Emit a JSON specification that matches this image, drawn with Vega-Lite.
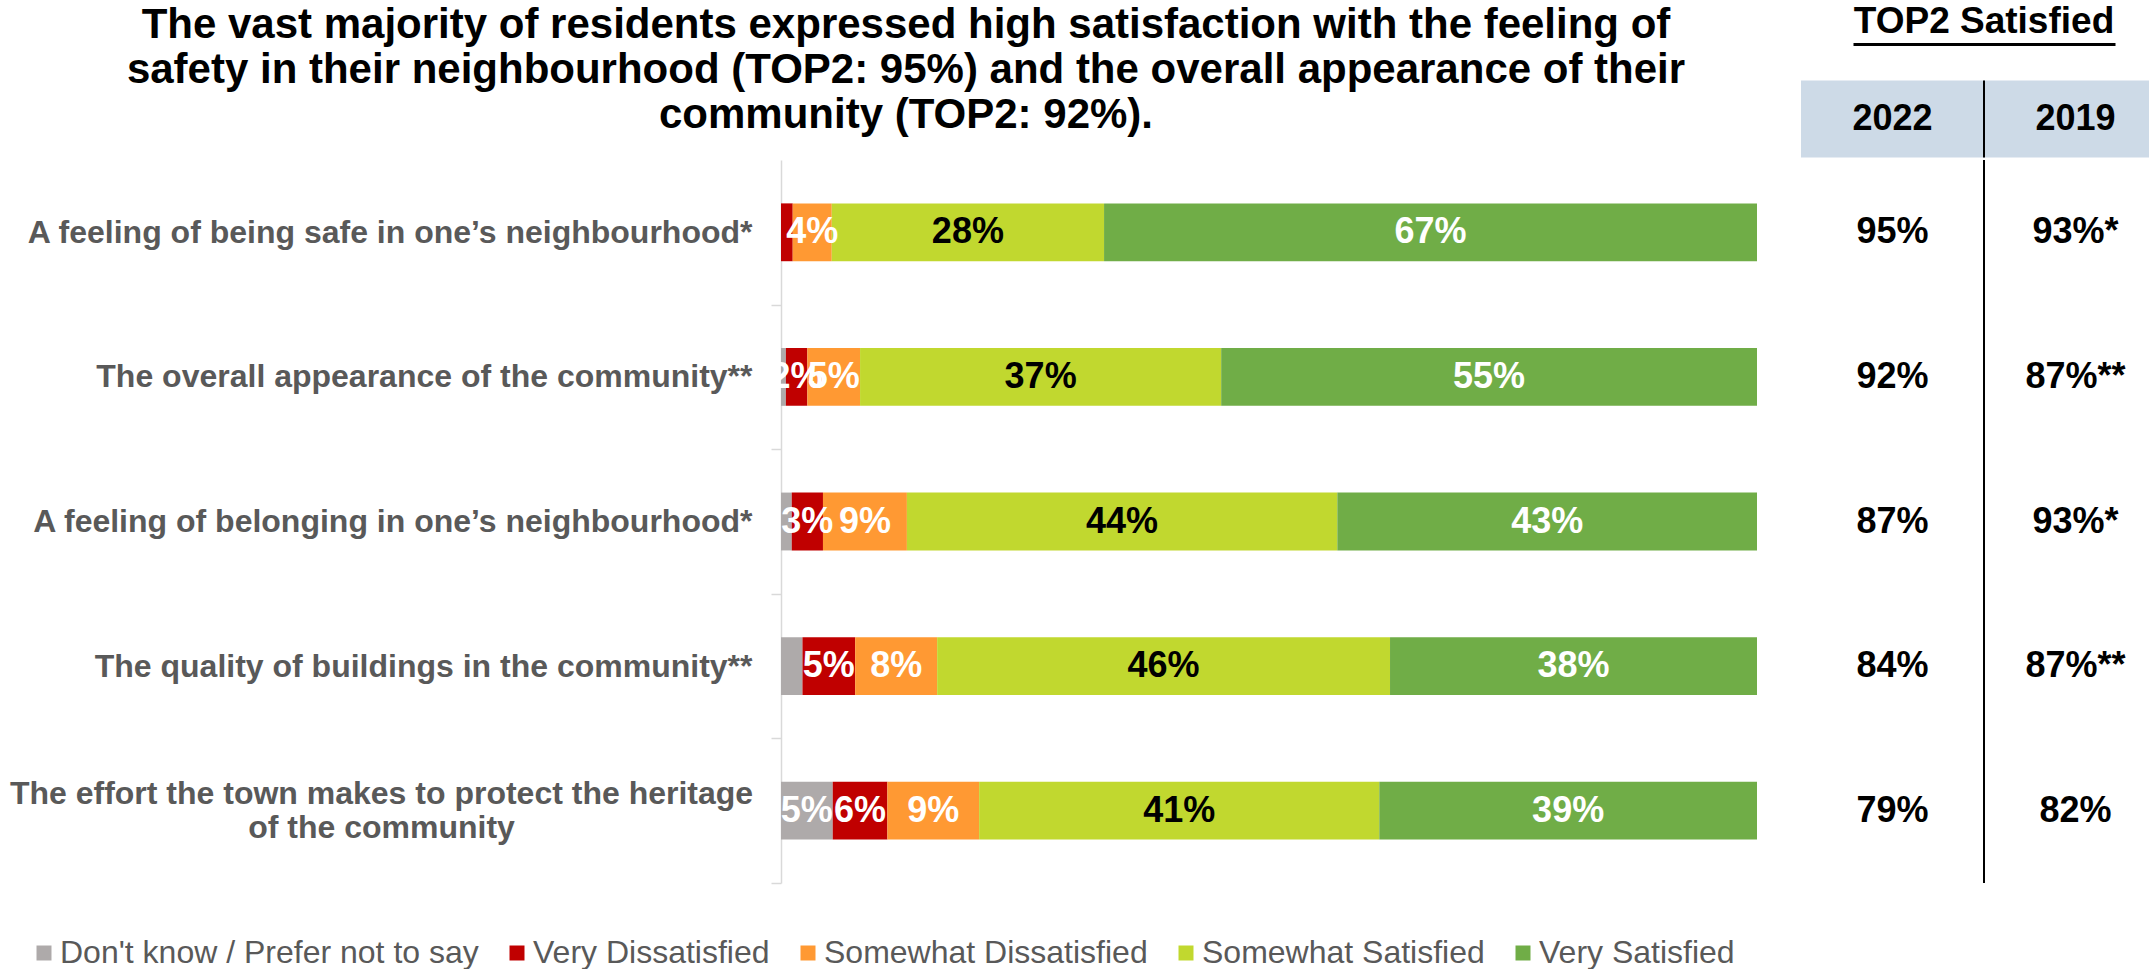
{
  "$schema": "https://vega.github.io/schema/vega-lite/v6.json",
  "padding": {"left": 9, "top": 0, "right": 0, "bottom": 0},
  "background": "white",
  "config": {
    "view": {"stroke": null},
    "font": "Liberation Sans"
  },
  "columns": 2,
  "align": "each",
  "spacing": {"row": 0, "column": 44},
  "resolve": {"scale": {"color": "independent"}, "legend": {"color": "independent"}},
  "concat": [
    {
      "width": 976,
      "height": 158,
      "data": {"values": [{"title": "main"}]},
      "mark": {"type": "text", "font": "Liberation Sans", "fontSize": 42, "fontWeight": "bold", "color": "#000000", "align": "center", "baseline": "middle", "lineHeight": 45, "dx": -363, "dy": -54},
      "encoding": {
        "text": {"value": ["The vast majority of residents expressed high satisfaction with the feeling of", "safety in their neighbourhood (TOP2: 95%) and the overall appearance of their", "community (TOP2: 92%)."]}
      }
    },
    {
      "vconcat": [
        {
          "width": 262,
          "height": 44,
          "data": {"values": [{"label": "TOP2 Satisfied"}]},
          "mark": {"type": "text", "font": "Liberation Sans", "fontSize": 37, "fontWeight": "bold", "color": "#000000", "baseline": "middle"},
          "encoding": {
            "text": {"field": "label"},
            "x": {"field": "label", "type": "nominal", "axis": {"orient": "bottom", "labels": false, "ticks": false, "grid": false, "title": null, "domain": true, "domainColor": "#000000", "domainWidth": 3}}
          }
        },
        {
          "width": 366,
          "height": 77,
          "data": {"values": [{"year": "2022"}, {"year": "2019"}]},
          "encoding": {
            "x": {"field": "year", "type": "nominal", "sort": null, "scale": {"type": "band", "paddingInner": 0, "paddingOuter": 0}, "axis": null}
          },
          "layer": [
            {"mark": {"type": "rect", "color": "#CDDAE7"}},
            {"mark": {"type": "text", "font": "Liberation Sans", "fontSize": 36, "fontWeight": "bold", "color": "#000000", "baseline": "middle"}, "encoding": {"text": {"field": "year"}}},
            {
              "transform": [{"filter": "datum.year === '2019'"}],
              "mark": {"type": "rule", "color": "#000000", "strokeWidth": 2},
              "encoding": {"x": {"field": "year", "type": "nominal", "sort": null, "bandPosition": 0, "scale": {"type": "band", "paddingInner": 0, "paddingOuter": 0}, "axis": null}}
            }
          ]
        }
      ],
      "spacing": 35.5,
      "center": true
    },
    {
      "width": 976,
      "height": 723,
      "data": {"values": [
        {"item": "A feeling of being safe in one’s neighbourhood*", "response": "Don't know / Prefer not to say", "rank": 1, "share": 0.0},
        {"item": "A feeling of being safe in one’s neighbourhood*", "response": "Very Dissatisfied", "rank": 2, "share": 0.012},
        {"item": "A feeling of being safe in one’s neighbourhood*", "response": "Somewhat Dissatisfied", "rank": 3, "share": 0.040},
        {"item": "A feeling of being safe in one’s neighbourhood*", "response": "Somewhat Satisfied", "rank": 4, "share": 0.279},
        {"item": "A feeling of being safe in one’s neighbourhood*", "response": "Very Satisfied", "rank": 5, "share": 0.669},
        {"item": "The overall appearance of the community**", "response": "Don't know / Prefer not to say", "rank": 1, "share": 0.005},
        {"item": "The overall appearance of the community**", "response": "Very Dissatisfied", "rank": 2, "share": 0.022},
        {"item": "The overall appearance of the community**", "response": "Somewhat Dissatisfied", "rank": 3, "share": 0.054},
        {"item": "The overall appearance of the community**", "response": "Somewhat Satisfied", "rank": 4, "share": 0.370},
        {"item": "The overall appearance of the community**", "response": "Very Satisfied", "rank": 5, "share": 0.549},
        {"item": "A feeling of belonging in one’s neighbourhood*", "response": "Don't know / Prefer not to say", "rank": 1, "share": 0.011},
        {"item": "A feeling of belonging in one’s neighbourhood*", "response": "Very Dissatisfied", "rank": 2, "share": 0.032},
        {"item": "A feeling of belonging in one’s neighbourhood*", "response": "Somewhat Dissatisfied", "rank": 3, "share": 0.086},
        {"item": "A feeling of belonging in one’s neighbourhood*", "response": "Somewhat Satisfied", "rank": 4, "share": 0.441},
        {"item": "A feeling of belonging in one’s neighbourhood*", "response": "Very Satisfied", "rank": 5, "share": 0.430},
        {"item": "The quality of buildings in the community**", "response": "Don't know / Prefer not to say", "rank": 1, "share": 0.022},
        {"item": "The quality of buildings in the community**", "response": "Very Dissatisfied", "rank": 2, "share": 0.054},
        {"item": "The quality of buildings in the community**", "response": "Somewhat Dissatisfied", "rank": 3, "share": 0.084},
        {"item": "The quality of buildings in the community**", "response": "Somewhat Satisfied", "rank": 4, "share": 0.464},
        {"item": "The quality of buildings in the community**", "response": "Very Satisfied", "rank": 5, "share": 0.376},
        {"item": "The effort the town makes to protect the heritage of the community", "response": "Don't know / Prefer not to say", "rank": 1, "share": 0.053},
        {"item": "The effort the town makes to protect the heritage of the community", "response": "Very Dissatisfied", "rank": 2, "share": 0.056},
        {"item": "The effort the town makes to protect the heritage of the community", "response": "Somewhat Dissatisfied", "rank": 3, "share": 0.094},
        {"item": "The effort the town makes to protect the heritage of the community", "response": "Somewhat Satisfied", "rank": 4, "share": 0.410},
        {"item": "The effort the town makes to protect the heritage of the community", "response": "Very Satisfied", "rank": 5, "share": 0.387}
      ]},
      "encoding": {
        "y": {
          "field": "item", "type": "nominal", "sort": null,
          "scale": {"type": "band", "paddingInner": 0.6, "paddingOuter": 0.3},
          "axis": {
            "title": null,
            "grid": false,
            "labelFont": "Liberation Sans",
            "labelFontSize": 32,
            "labelFontWeight": "bold",
            "labelColor": "#595959",
            "labelLimit": 1000,
            "labelLineHeight": 34,
            "labelExpr": "indexof(datum.value, 'effort') >= 0 ? ['The effort the town makes to protect the heritage', 'of the community'] : datum.label",
            "labelAlign": {"condition": {"test": "indexof(datum.value, 'effort') >= 0", "value": "center"}, "value": "right"},
            "labelPadding": {"condition": {"test": "indexof(datum.value, 'effort') >= 0", "value": 390}, "value": 19},
            "labelOffset": {"condition": {"test": "indexof(datum.value, 'effort') >= 0", "value": -89.3}, "value": -72.3},
            "ticks": true,
            "tickSize": 10,
            "tickColor": "#D9D9D9",
            "tickWidth": 1.5,
            "tickOffset": 72.3,
            "domainColor": "#D9D9D9",
            "domainWidth": 1.5
          }
        },
        "order": {"field": "rank", "type": "quantitative"}
      },
      "layer": [
        {
          "mark": {"type": "bar"},
          "encoding": {
            "x": {"field": "share", "type": "quantitative", "stack": "zero", "scale": {"domain": [0, 1], "nice": false, "zero": true}, "axis": null},
            "color": {
              "field": "response", "type": "nominal",
              "scale": {
                "domain": ["Don't know / Prefer not to say", "Very Dissatisfied", "Somewhat Dissatisfied", "Somewhat Satisfied", "Very Satisfied"],
                "range": ["#AEAAAA", "#C00000", "#FF9933", "#C1D82F", "#70AD47"]
              },
              "legend": {
                "title": null,
                "orient": "none",
                "legendX": -753,
                "legendY": 777,
                "direction": "horizontal",
                "labelFont": "Liberation Sans",
                "labelFontSize": 32,
                "labelColor": "#595959",
                "labelLimit": 1000,
                "labelOffset": 0,
                "columnPadding": 22,
                "symbolType": "square",
                "symbolSize": 225,
                "symbolStrokeWidth": 0
              }
            }
          }
        },
        {
          "mark": {"type": "text", "font": "Liberation Sans", "fontSize": 36, "fontWeight": "bold", "baseline": "middle", "align": "center"},
          "encoding": {
            "x": {"field": "share", "type": "quantitative", "stack": "zero", "bandPosition": 0.5},
            "text": {"field": "share", "type": "quantitative", "format": ".0%"},
            "color": {"condition": {"test": "datum.response === 'Somewhat Satisfied'", "value": "#000000"}, "value": "#FFFFFF"},
            "opacity": {"condition": {"test": "datum.share < 0.02 || (datum.rank === 1 && datum.share < 0.04)", "value": 0}, "value": 1}
          }
        }
      ]
    },
    {
      "width": 366,
      "height": 723,
      "data": {"values": [
        {"item": "A feeling of being safe in one’s neighbourhood*", "year": "2022", "label": "95%"},
        {"item": "A feeling of being safe in one’s neighbourhood*", "year": "2019", "label": "93%*"},
        {"item": "The overall appearance of the community**", "year": "2022", "label": "92%"},
        {"item": "The overall appearance of the community**", "year": "2019", "label": "87%**"},
        {"item": "A feeling of belonging in one’s neighbourhood*", "year": "2022", "label": "87%"},
        {"item": "A feeling of belonging in one’s neighbourhood*", "year": "2019", "label": "93%*"},
        {"item": "The quality of buildings in the community**", "year": "2022", "label": "84%"},
        {"item": "The quality of buildings in the community**", "year": "2019", "label": "87%**"},
        {"item": "The effort the town makes to protect the heritage of the community", "year": "2022", "label": "79%"},
        {"item": "The effort the town makes to protect the heritage of the community", "year": "2019", "label": "82%"}
      ]},
      "encoding": {
        "x": {"field": "year", "type": "nominal", "sort": null, "scale": {"type": "band", "paddingInner": 0, "paddingOuter": 0}, "axis": null}
      },
      "layer": [
        {
          "mark": {"type": "text", "font": "Liberation Sans", "fontSize": 36, "fontWeight": "bold", "color": "#000000", "baseline": "middle"},
          "encoding": {
            "y": {"field": "item", "type": "nominal", "sort": null, "scale": {"type": "band", "paddingInner": 0.6, "paddingOuter": 0.3}, "axis": null},
            "text": {"field": "label"}
          }
        },
        {
          "transform": [{"filter": "datum.year === '2019'"}],
          "mark": {"type": "rule", "color": "#000000", "strokeWidth": 2},
          "encoding": {
            "x": {"field": "year", "type": "nominal", "sort": null, "bandPosition": 0, "scale": {"type": "band", "paddingInner": 0, "paddingOuter": 0}, "axis": null}
          }
        }
      ]
    }
  ]
}
